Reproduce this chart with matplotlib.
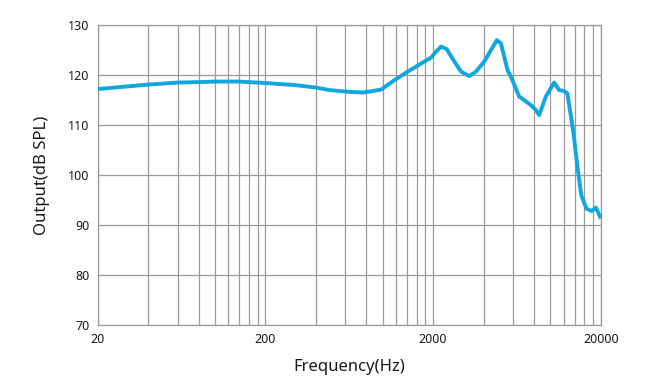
import numpy as np
import matplotlib.pyplot as plt
from matplotlib.ticker import FixedLocator, NullFormatter

plt.rcParams['font.family'] = ['Noto Sans', 'DejaVu Sans']

# frequency response
freq = [20, 40, 60, 80, 100, 140, 200, 300, 400, 482, 596, 760, 836, 980, 1178,
        1382, 1657, 1946, 2084, 2232, 2410, 2679, 2936, 3290, 3606, 4040, 4428,
        4808, 5082, 5560, 5823, 6528, 7660, 8203, 8590, 9416, 10550, 11300,
        12100, 12660, 13680, 14620, 15310, 16420, 17610, 18690, 20100]
spl = [117.2, 118.1, 118.5, 118.6, 118.7, 118.7, 118.4, 118.0, 117.5, 117.0, 116.7,
       116.5, 116.7, 117.1, 119.0, 120.5, 122.1, 123.5, 124.7, 125.7, 125.2, 122.7,
       120.7, 119.8, 120.7, 122.7, 125.0, 127.0, 126.3, 121.0, 119.7, 115.7, 114.0,
       113.0, 112.0, 115.7, 118.5, 117.0, 116.8, 116.3, 109.0, 101.0, 96.0, 93.3,
       92.8, 93.5, 91.3]

x_ticks = [20, 200, 2000, 20000]
y_ticks = [70, 80, 90, 100, 110, 120, 130]

# grid at 20,40,...,200,400,...
grid_x = [m * k for m in (20, 200, 2000) for k in range(1, 11)]

fig = plt.figure(figsize=(6.48, 3.92), dpi=100)
ax = fig.add_axes([0.151, 0.171, 0.776, 0.765])

ax.plot(freq, spl, color='#12a6df', lw=2.8, solid_joinstyle='round',
        solid_capstyle='butt', zorder=3)

ax.set_xscale('log')
ax.set_xlim(20, 20000)
ax.set_ylim(70, 130)
ax.xaxis.set_major_locator(FixedLocator(x_ticks))
ax.xaxis.set_major_formatter(plt.FixedFormatter([str(v) for v in x_ticks]))
ax.xaxis.set_minor_locator(FixedLocator(grid_x))
ax.xaxis.set_minor_formatter(NullFormatter())
ax.set_yticks(y_ticks)

ax.grid(True, which='both', axis='x', color='#9a9a9a', lw=0.9)
ax.grid(True, which='major', axis='y', color='#9a9a9a', lw=0.9)
ax.tick_params(which='both', length=0, labelsize=9, colors='#1a1a1a')
ax.tick_params(axis='x', pad=6)
ax.tick_params(axis='y', pad=6)
for s in ax.spines.values():
    s.set_color('#9a9a9a')
    s.set_linewidth(0.9)

ax.set_xlabel('Frequency(Hz)', fontsize=12, color='#1a1a1a', labelpad=9)
ax.set_ylabel('Output(dB SPL)', fontsize=12, color='#1a1a1a', labelpad=13)

fig.savefig('out.png', dpi=100)
